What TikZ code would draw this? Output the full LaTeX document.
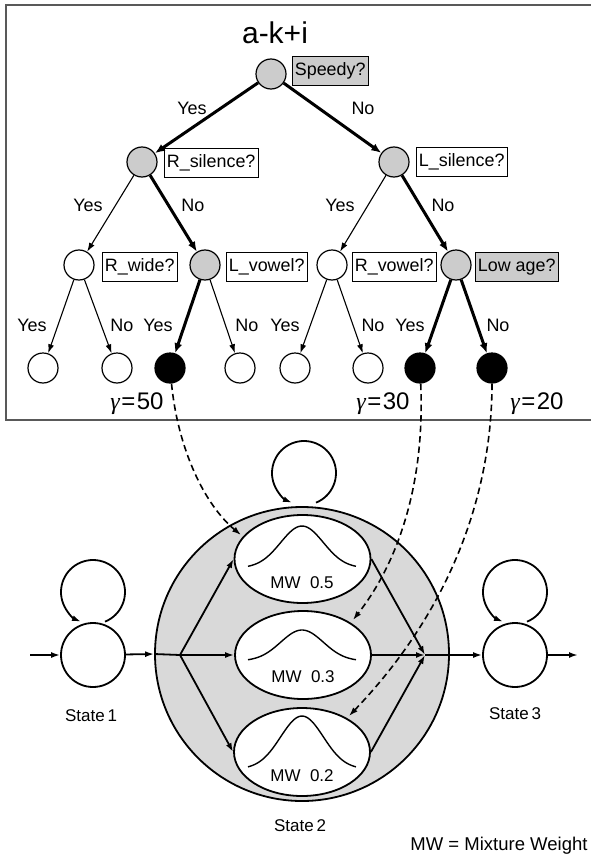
\documentclass[tikz,border=0pt]{standalone}
\usepackage{fontspec}
\setmainfont{Liberation Sans}
\newfontfamily\grk{Liberation Serif}
\usetikzlibrary{arrows.meta,calc,shapes.geometric}
\begin{document}
\begin{tikzpicture}[x=1pt,y=-1pt,
  tn/.style={circle,draw,line width=1.2pt,minimum size=30pt,inner sep=0pt},
  gn/.style={tn,fill=gray!40},
  bn/.style={tn,fill=black},
  qbox/.style={draw,line width=0.8pt,font=\fontsize{17.9}{21}\selectfont,minimum height=29pt,inner xsep=2.5pt,inner ysep=0pt,anchor=west},
  lbl/.style={font=\fontsize{18}{21}\selectfont},
  glbl/.style={font=\fontsize{24}{28}\selectfont},
  slbl/.style={font=\fontsize{17}{20}\selectfont},
  thinarr/.style={line width=1.1pt,-{Latex[length=9pt,width=6pt]}},
  thickarr/.style={line width=3pt,-{Latex[length=10pt,width=8pt]}},
  hmm/.style={line width=1.8pt},
  hmmarr/.style={line width=1.8pt,-{Latex[length=9pt,width=6pt]}},
  dasharr/.style={line width=1.6pt,dash pattern=on 6.5pt off 4pt,-{Latex[length=9pt,width=6pt]}},
  stc/.style={circle,draw,line width=1.8pt,fill=white,minimum size=64pt,inner sep=0pt},
  mix/.style={ellipse,draw,line width=1.8pt,fill=white,minimum width=136pt,minimum height=88pt,inner sep=0pt}
]
\useasboundingbox (0,0) rectangle (591,856);
% frame
\draw[black!65,line width=1.5pt] (6,5) rectangle (594,420);
% title
\node[font=\fontsize{30}{33}\selectfont] (title) at (275,33) {a-k+i};
% tree nodes
\node[gn] (r) at (271,74) {};
\node[gn] (a) at (142,162) {};
\node[gn] (b) at (394,162) {};
\node[tn] (aa) at (79,265) {};
\node[gn] (ab) at (205,265) {};
\node[tn] (ba) at (332,265) {};
\node[gn] (bb) at (456,265) {};
\node[tn] (l1) at (43,368) {};
\node[tn] (l2) at (117,368) {};
\node[bn] (l3) at (170,368) {};
\node[tn] (l4) at (240,368) {};
\node[tn] (l5) at (295,368) {};
\node[tn] (l6) at (368,368) {};
\node[bn] (l7) at (420,368) {};
\node[bn] (l8) at (492,368) {};
% question boxes
\node[qbox,fill=gray!40] (q0) at (292,71) {Speedy?};
\node[qbox] (q1) at (164,163) {R\_silence?};
\node[qbox] (q2) at (416,162) {L\_silence?};
\node[qbox] (q3) at (102,267) {R\_wide?};
\node[qbox] (q4) at (226,267) {L\_vowel?};
\node[qbox] (q5) at (352,267) {R\_vowel?};
\node[qbox,fill=gray!40] (q6) at (475,267) {Low age?};
% tree edges
\draw[thickarr] (r) -- (a);
\draw[thickarr] (r) -- (b);
\draw[thinarr] (a) -- (aa);
\draw[thickarr] (a) -- (ab);
\draw[thinarr] (b) -- (ba);
\draw[thickarr] (b) -- (bb);
\draw[thinarr] (aa) -- (l1);
\draw[thinarr] (aa) -- (l2);
\draw[thickarr] (ab) -- (l3);
\draw[thinarr] (ab) -- (l4);
\draw[thinarr] (ba) -- (l5);
\draw[thinarr] (ba) -- (l6);
\draw[thickarr] (bb) -- (l7);
\draw[thickarr] (bb) -- (l8);
% edge labels
\node[lbl] (y0) at (192,108) {Yes};
\node[lbl] (n0) at (363,108) {No};
\node[lbl] (y1) at (88,205) {Yes};
\node[lbl] (n1) at (193,205) {No};
\node[lbl] (y2) at (340,205) {Yes};
\node[lbl] (n2) at (443,205) {No};
\node[lbl] (y3) at (32,325) {Yes};
\node[lbl] (n3) at (122,325) {No};
\node[lbl] (y4) at (158,325) {Yes};
\node[lbl] (n4) at (247,325) {No};
\node[lbl] (y5) at (285,325) {Yes};
\node[lbl] (n5) at (373,325) {No};
\node[lbl] (y6) at (410,325) {Yes};
\node[lbl] (n6) at (498,325) {No};
% gamma labels
\node[glbl] (g1) at (137,404) {{\grk\itshape γ}\hspace{1.5pt}=\hspace{1.5pt}50};
\node[glbl] (g2) at (383,404) {{\grk\itshape γ}\hspace{1.5pt}=\hspace{1.5pt}30};
\node[glbl] (g3) at (537,404) {{\grk\itshape γ}\hspace{1.5pt}=\hspace{1.5pt}20};
% HMM
\node[circle,draw,line width=1.8pt,fill=gray!30,minimum size=294pt,inner sep=0pt] (s2) at (302,654) {};
\node[stc] (s1) at (93,655) {};
\node[stc] (s3) at (515,655) {};
\node[mix] (e1) at (302.5,559) {};
\node[mix] (e2) at (303,655) {};
\node[mix] (e3) at (302,752) {};
% gaussians
\draw[line width=1.4pt] plot[domain=-1:1,samples=50,smooth] ({302+54*\x},{568-42*exp(-3.2*\x*\x)});
\draw[line width=1.4pt] plot[domain=-1:1,samples=50,smooth] ({302+54*\x},{661-31*exp(-3.2*\x*\x)});
\draw[line width=1.4pt] plot[domain=-1:1,samples=50,smooth] ({302+54*\x},{769-53*exp(-3.2*\x*\x)});
\node[slbl] (m1) at (302,583) {MW\ \ 0.5};
\node[slbl] (m2) at (303,677) {MW\ \ 0.3};
\node[slbl] (m3) at (302,776) {MW\ \ 0.2};
% connectors
\coordinate (in) at (30,655);
\coordinate (out) at (578,655);
\coordinate (br) at (180,655);
\coordinate (mg) at (425,655);
\draw[hmmarr] (in) -- (s1);
\draw[hmmarr] (s1) -- (s2.west);
\draw[hmm] (s2.west) -- (br);
\draw[hmmarr] (br) -- (e1.west);
\draw[hmmarr] (br) -- (e2.west);
\draw[hmmarr] (br) -- (e3.west);
\draw[hmmarr] (e1.east) -- (mg);
\draw[hmmarr] (e2.east) -- (mg);
\draw[hmmarr] (e3.east) -- (mg);
\draw[hmmarr] (mg) -- (s3);
\draw[hmmarr] (s3) -- (out);
% loops
\coordinate (lp1) at ($(93,592)+(68:32)$);
\coordinate (lp2) at ($(304,473)+(68:32)$);
\coordinate (lp3) at ($(515,592)+(68:32)$);
\draw[hmmarr] (lp1) arc (68:-248:32);
\draw[hmmarr] (lp2) arc (68:-248:32);
\draw[hmmarr] (lp3) arc (68:-248:32);
% dashed links
\draw[dasharr] (l3) .. controls (178,450) and (205,505) .. (241,535);
\draw[dasharr] (l7) .. controls (425,480) and (400,560) .. (353,620);
\draw[dasharr] (l8) .. controls (492,480) and (460,600) .. (349,716);
% state labels
\node[slbl] (t1) at (91,716) {State\,1};
\node[slbl] (t2) at (300,826) {State\,2};
\node[slbl] (t3) at (515,714) {State\,3};
\node[font=\fontsize{18.5}{21}\selectfont,anchor=east] (mw) at (591,846) {MW = Mixture Weight};
\end{tikzpicture}
\end{document}
